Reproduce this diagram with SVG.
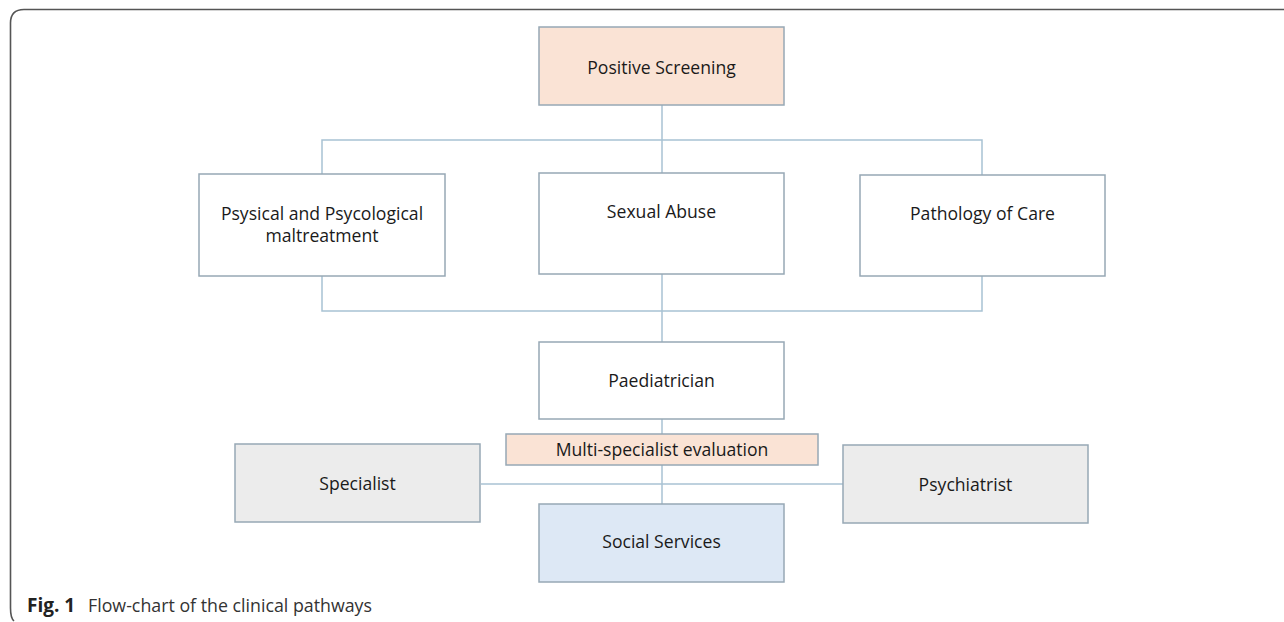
<svg xmlns="http://www.w3.org/2000/svg" width="1284" height="622" viewBox="0 0 1284 622">
<style>
.box{stroke:#97a8b5;stroke-width:1.5;fill:#ffffff}
.peach{fill:#fae3d5}
.gray{fill:#ececec}
.blue{fill:#dde8f5}
.t{font-family:"Open Sans","Liberation Sans",sans-serif;font-size:17.6px;fill:#1a1a1a;text-anchor:middle}
.c{stroke:#a8c2d3;stroke-width:1.5;fill:none}
.cap{font-family:"Open Sans","Liberation Sans",sans-serif;font-size:17.8px;fill:#333}
</style>
<rect width="1284" height="622" fill="#ffffff"/>
<path d="M1284 9.5 H24 Q10.5 9.5 10.5 23 V608 Q10.5 618 14 621" fill="none" stroke="#555" stroke-width="1.6"/>
<g id="connectors">
<path class="c" d="M662 105 V174"/>
<path class="c" d="M322 174 V140 H982 V175"/>
<path class="c" d="M322 276 V311 H982 V276"/>
<path class="c" d="M662 274 V342"/>
<path class="c" d="M662 419 V434"/>
<path class="c" d="M662 465 V504"/>
<path class="c" d="M481 484 H843"/>
</g>
<g id="positive-screening">
<rect class="box peach" x="539" y="27" width="245" height="78"/>
<text class="t" x="661.5" y="74">Positive Screening</text>
</g>
<g id="physical">
<rect class="box" x="199" y="174" width="246" height="102"/>
<text class="t" x="322" y="220">Psysical and Psycological</text>
<text class="t" x="322" y="242">maltreatment</text>
</g>
<g id="sexual-abuse">
<rect class="box" x="539" y="173" width="245" height="101"/>
<text class="t" x="661.5" y="218">Sexual Abuse</text>
</g>
<g id="pathology">
<rect class="box" x="860" y="175" width="245" height="101"/>
<text class="t" x="982.5" y="220">Pathology of Care</text>
</g>
<g id="paediatrician">
<rect class="box" x="539" y="342" width="245" height="77"/>
<text class="t" x="661.5" y="387">Paediatrician</text>
</g>
<g id="multi">
<rect class="box peach" x="506" y="434" width="312" height="31"/>
<text class="t" x="662" y="456">Multi-specialist evaluation</text>
</g>
<g id="specialist">
<rect class="box gray" x="235" y="444" width="245" height="78"/>
<text class="t" x="357.5" y="490">Specialist</text>
</g>
<g id="psychiatrist">
<rect class="box gray" x="843" y="445" width="245" height="78"/>
<text class="t" x="965.5" y="491">Psychiatrist</text>
</g>
<g id="social-services">
<rect class="box blue" x="539" y="504" width="245" height="78"/>
<text class="t" x="661.5" y="548">Social Services</text>
</g>
<text class="cap" x="27" y="612"><tspan font-weight="bold" font-size="19px" fill="#222">Fig. 1</tspan><tspan x="88">Flow-chart of the clinical pathways</tspan></text>
</svg>
